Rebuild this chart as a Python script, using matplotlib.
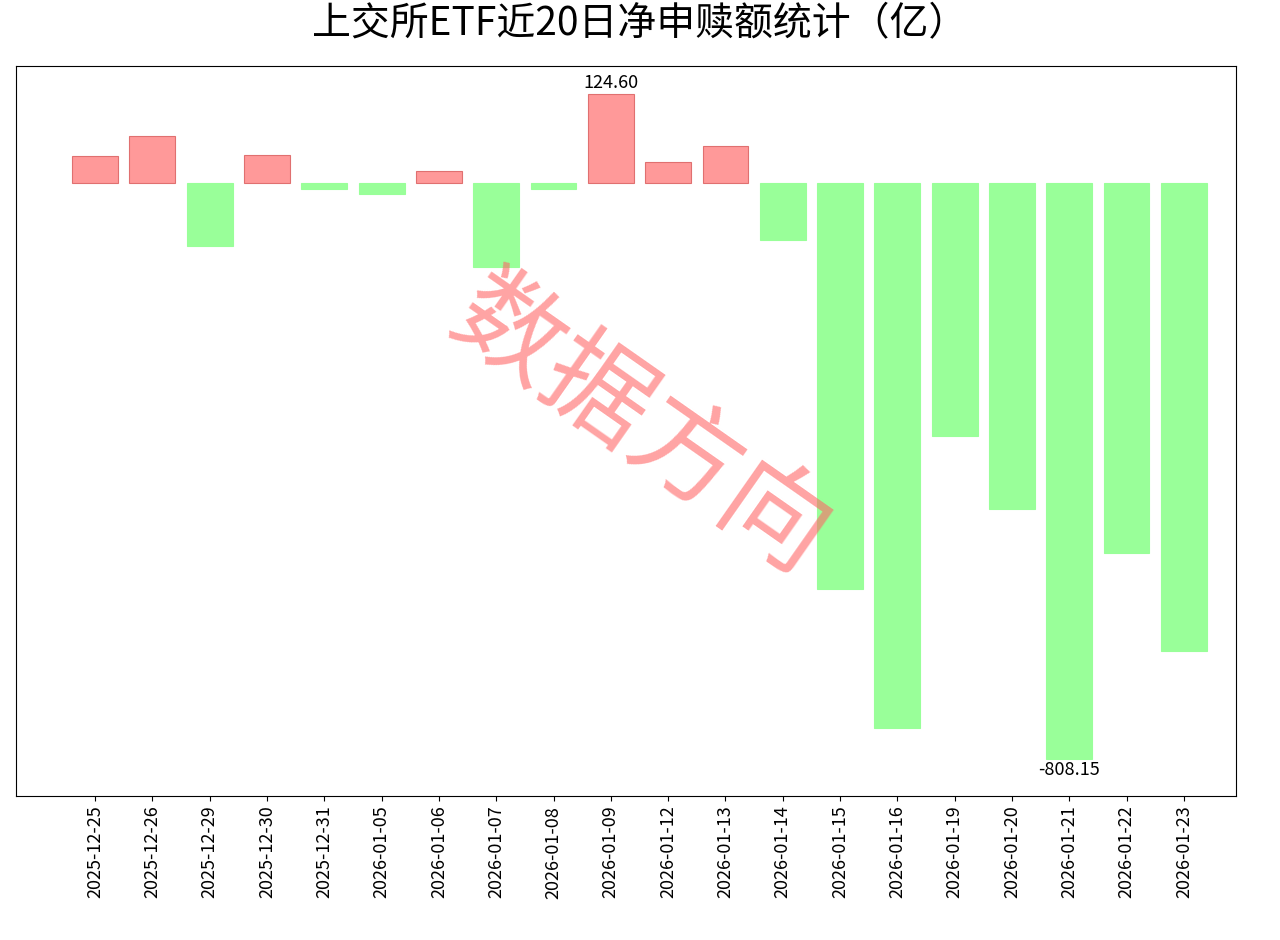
import matplotlib
matplotlib.use("Agg")
import matplotlib.pyplot as plt

plt.rcParams['font.family'] = ['Noto Sans CJK SC', 'DejaVu Sans']
plt.rcParams['axes.unicode_minus'] = False

dates = ["2025-12-25","2025-12-26","2025-12-29","2025-12-30","2025-12-31","2026-01-05",
         "2026-01-06","2026-01-07","2026-01-08","2026-01-09","2026-01-12","2026-01-13",
         "2026-01-14","2026-01-15","2026-01-16","2026-01-19","2026-01-20","2026-01-21",
         "2026-01-22","2026-01-23"]
values = [38, 66, -88, 39, -8, -15, 17, -118, -9, 124.60, 29, 52, -80, -569, -764,
          -355, -458, -808.15, -519, -657]

fig = plt.figure(figsize=(12.8, 9.4), dpi=100)
ax = fig.add_axes([16/1280, 1-796/940, 1220/1280, 730/940])
colors = ['#FF9999' if v > 0 else '#99FF99' for v in values]
edges = ['#E07070' if v > 0 else '#99FF99' for v in values]
x = range(len(values))
ax.bar(x, values, width=0.8, color=colors, edgecolor=edges, linewidth=0.8)
ax.set_xlim(-1.38, len(values) - 0.09)
ax.set_ylim(-860, 164)
ax.set_yticks([])
ax.set_xticks(list(x))
ax.set_xticklabels(dates, rotation=90, fontsize=13)
imax = values.index(max(values)); imin = values.index(min(values))
ax.text(imax, values[imax] + 3, f"{values[imax]:.2f}", ha='center', va='bottom', fontsize=13)
ax.text(imin, values[imin] - 3, f"{values[imin]:.2f}", ha='center', va='top', fontsize=13)
fig.suptitle("上交所ETF近20日净申赎额统计（亿）", fontsize=28, y=0.995, va='top')
fig.text(0.5, 0.545, "数据方向", fontsize=78, color='#FF6666', alpha=0.6,
         rotation=-35, ha='center', va='center')
fig.savefig("out.png")
